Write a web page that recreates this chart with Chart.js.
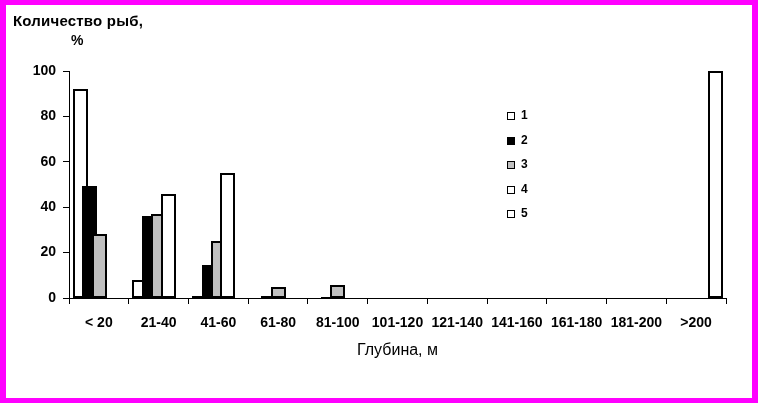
<!DOCTYPE html>
<html>
<head>
<meta charset="utf-8">
<script src="https://cdn.jsdelivr.net/npm/chart.js@4.4.1/dist/chart.umd.min.js"></script>
<style>
  body { margin: 0; }
  #frame { position: relative; width: 758px; height: 403px; background: #ff00ff; }
  #inner { position: absolute; left: 6px; top: 5px; width: 746px; height: 393px; background: #fff; }
  #chart { position: absolute; left: 0; top: 0; }
  .txt { position: absolute; font-family: 'Liberation Sans', Arial, sans-serif; font-weight: bold; font-size: 14px; line-height: 14px; color: #000; white-space: nowrap; }
  .leg { position: absolute; left: 501px; font-family: 'Liberation Sans', Arial, sans-serif; font-weight: bold; font-size: 12px; line-height: 12px; }
  .leg i { position: absolute; left: 0; top: 2px; width: 6px; height: 6px; border: 1px solid #000; }
  .leg span { position: absolute; left: 14px; top: -1px; }
</style>
</head>
<body>
<div id="frame">
  <div id="inner">
    <canvas id="chart" width="746" height="393"></canvas>
    <div class="txt" style="left:7px; top:8px; font-size:15px; line-height:15px; letter-spacing:0.2px">Количество рыб,</div>
    <div class="txt" style="left:65px; top:28px">%</div>
    <div id="legend"></div>
  </div>
</div>
<script>
// depth classes and share of fish per group (%)
const depths = ['< 20', '21-40', '41-60', '61-80', '81-100', '101-120', '121-140', '141-160', '161-180', '181-200', '>200']
const seriesNames = ['1', '2', '3', '4', '5']
const s1 = [92, 8, 1, 0, 0, 0, 0, 0, 0, 0, 0]
const s2 = [49.5, 36, 14.5, 1, 0.6, 0, 0, 0, 0, 0, 0]
const s3 = [28.4, 37, 25.3, 5, 5.6, 0, 0, 0, 0, 0, 0]
const s4 = [0, 45.6, 55, 0, 0, 0, 0, 0, 0, 0, 0]
const s5 = [0, 0, 0, 0, 0, 0, 0, 0, 0, 0, 100]
const fills = ['#ffffff', '#000000', '#c0c0c0', '#ffffff', '#ffffff']

const ctx = document.querySelector('#chart').getContext('2d')
const font = "'Liberation Sans', Arial, sans-serif"

const datasets = [s1, s2, s3, s4, s5].map((data, i) => ({
  label: seriesNames[i],
  data,
  backgroundColor: fills[i],
  borderColor: '#000',
  borderWidth: 2,
  borderSkipped: false,
  categoryPercentage: 0.79,
  barPercentage: 1.55
}))

// excel-like overlap: later series painted over earlier ones,
// with bar edges snapped to whole pixels so borders stay crisp
const drawInOrder = {
  id: 'drawInOrder',
  beforeDatasetsDraw(chart) {
    chart.getSortedVisibleDatasetMetas().forEach(meta => {
      meta.data.forEach(el => {
        const w = Math.round(el.width)
        const left = Math.round(el.x - el.width / 2)
        el.width = w
        el.x = left + w / 2
        el.y = Math.round(el.y)
        el.base = Math.round(el.base)
      })
      meta.controller.draw()
    })
    return false
  }
}

new Chart(ctx, {
  type: 'bar',
  data: { labels: depths, datasets },
  plugins: [drawInOrder],
  options: {
    responsive: false,
    animation: false,
    layout: { padding: { top: 66, right: 26, left: 0, bottom: 0 } },
    plugins: { legend: { display: false }, tooltip: { enabled: false } },
    scales: {
      x: {
        afterFit: scale => { scale.height = 100 },
        grid: { drawOnChartArea: false, tickLength: 6, color: '#000' },
        border: { color: '#000', width: 1 },
        ticks: { color: '#000', padding: 11, maxRotation: 0, autoSkip: false, font: { family: font, size: 14, weight: 'bold' } },
        title: { display: true, text: 'Глубина, м', color: '#000', padding: { top: 0, bottom: 38 }, font: { family: font, size: 16 } }
      },
      y: {
        min: 0,
        max: 100,
        afterFit: scale => { scale.width = 63 },
        grid: { drawOnChartArea: false, tickLength: 6, color: '#000' },
        border: { color: '#000', width: 1 },
        ticks: { stepSize: 20, color: '#000', padding: 7, font: { family: font, size: 14, weight: 'bold' } }
      }
    }
  }
})

// legend built from the same series
const legend = document.querySelector('#legend')
datasets.forEach((ds, i) => {
  const row = document.createElement('div')
  row.className = 'leg'
  row.style.top = (105 + i * 24.6) + 'px'
  row.innerHTML = `<i style="background:${ds.backgroundColor}"></i><span>${ds.label}</span>`
  legend.appendChild(row)
})
</script>
</body>
</html>
